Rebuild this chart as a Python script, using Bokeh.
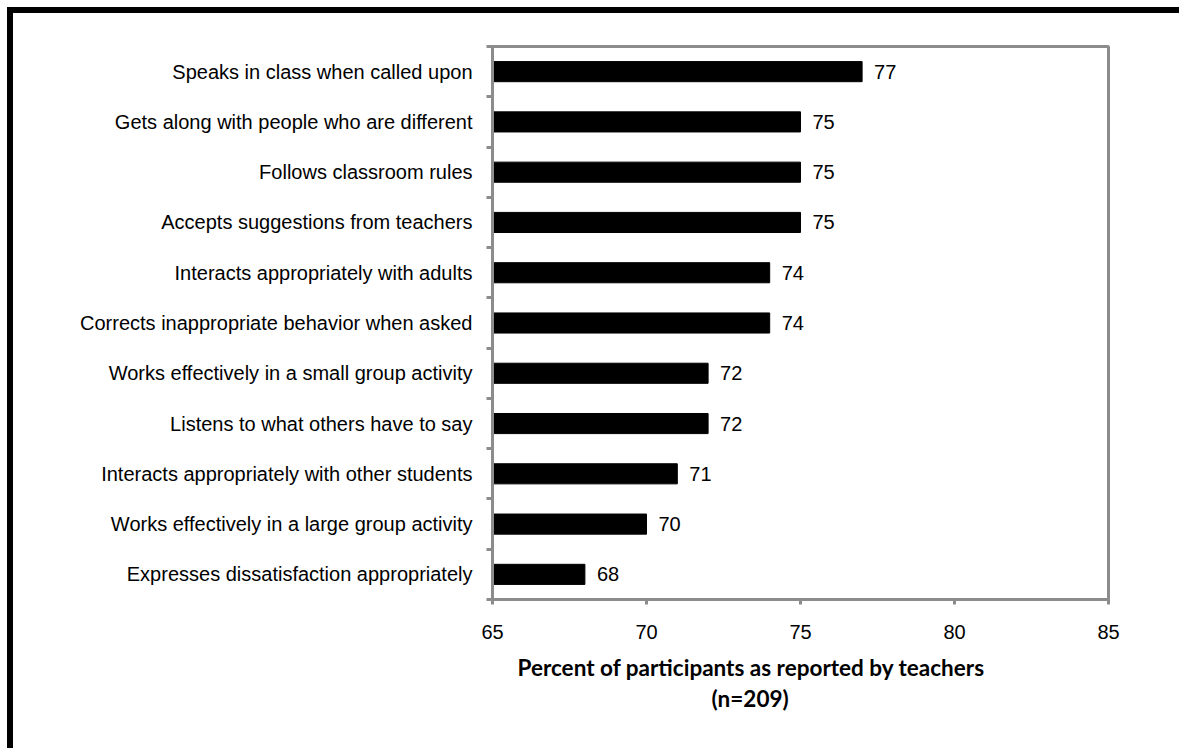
from bokeh.plotting import figure
from bokeh.models import (Range1d, FixedTicker, ColumnDataSource, LabelSet, Title)
from bokeh.core.properties import value
from bokeh.embed import file_html
from bokeh.resources import INLINE

# ---- data (top to bottom as displayed) ----
categories = [
    "Speaks in class when called upon",
    "Gets along with people who are different",
    "Follows classroom rules",
    "Accepts suggestions from teachers",
    "Interacts appropriately with adults",
    "Corrects inappropriate behavior when asked",
    "Works effectively in a small group activity",
    "Listens to what others have to say",
    "Interacts appropriately with other students",
    "Works effectively in a large group activity",
    "Expresses dissatisfaction appropriately",
]
values = [77, 75, 75, 75, 74, 74, 72, 72, 71, 70, 68]
x_ticks = [65, 70, 75, 80, 85]
x_title_1 = "Percent of participants as reported by teachers"
x_title_2 = "(n=209)"

n = len(categories)
centers = [n - i - 0.5 for i in range(n)]
labels = [str(v) for v in values]

src = ColumnDataSource(dict(y=centers, v=values, cat=categories, lab=labels))

GRAY = "#8c8c8c"
FONT = "Liberation Sans"

p = figure(width=1172, height=741, output_backend="svg", toolbar_location=None,
           x_range=Range1d(65, 85), y_range=Range1d(0, n),
           min_border_left=479, min_border_right=77,
           min_border_top=33, min_border_bottom=155)
p.styles = {"margin-left": "7px", "margin-top": "7px",
            "border-left": "6px solid black", "border-top": "6px solid black"}

p.hbar(y="y", left=65, right="v", height=0.4, source=src,
       fill_color="black", line_color="black")

p.grid.visible = False
p.outline_line_color = GRAY
p.outline_line_width = 3
p.background_fill_color = "white"
p.border_fill_color = "white"

# x axis
xa = p.xaxis[0]
xa.ticker = FixedTicker(ticks=x_ticks, minor_ticks=[])
xa.axis_line_color = GRAY
xa.axis_line_width = 3
xa.major_tick_line_color = GRAY
xa.major_tick_line_width = 3
xa.major_tick_in = 0
xa.major_tick_out = 5
xa.major_label_standoff = 20
xa.major_label_text_font = FONT
xa.major_label_text_font_size = "20px"
xa.major_label_text_color = "black"

# y axis
ya = p.yaxis[0]
ya.ticker = FixedTicker(ticks=centers, minor_ticks=list(range(n + 1)))
ya.major_label_overrides = {c: cat for c, cat in zip(centers, categories)}
ya.axis_line_color = GRAY
ya.axis_line_width = 3
ya.major_tick_line_color = None
ya.major_tick_in = 0
ya.major_tick_out = 0
ya.minor_tick_line_color = GRAY
ya.minor_tick_line_width = 3
ya.minor_tick_in = 0
ya.minor_tick_out = 6
ya.major_label_standoff = 14
ya.major_label_text_font = FONT
ya.major_label_text_font_size = "20px"
ya.major_label_text_color = "black"

# value labels
p.add_layout(LabelSet(x="v", y="y", text="lab", source=src, x_offset=12,
                      text_baseline="middle", text_align="left",
                      text_font=value(FONT), text_font_size="20px",
                      text_color="black"))

# axis title (two lines) as titles below the x axis
p.add_layout(Title(text=x_title_1, align="left", offset=25, text_font="Lato",
                   text_font_style="bold", text_font_size="22.5px",
                   text_color="black", standoff=20), "below")
p.add_layout(Title(text=x_title_2, align="left", offset=219, text_font="Lato",
                   text_font_style="bold", text_font_size="22.5px",
                   text_color="black", standoff=-16), "below")

open("out.html", "w").write(file_html(p, INLINE))
